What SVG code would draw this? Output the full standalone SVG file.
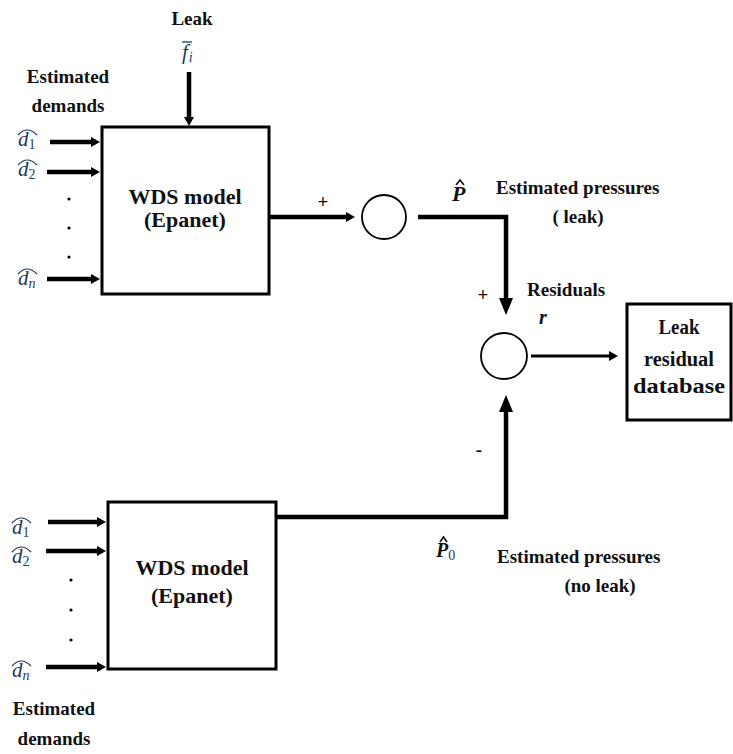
<svg xmlns="http://www.w3.org/2000/svg" width="733" height="754" viewBox="0 0 733 754">
<style>
.box{fill:#fff;stroke:#000;stroke-width:3}
.sum{fill:#fff;stroke:#000;stroke-width:1.8}
.lbl{font-family:"Liberation Serif",serif;font-weight:bold;font-size:19px;fill:#111}
.big{font-family:"Liberation Serif",serif;font-weight:bold;font-size:22px;fill:#111}
.math{font-family:"Liberation Serif",serif;font-style:italic;font-size:21px;fill:#1f3864}
.sub{font-family:"Liberation Serif",serif;font-size:14px;fill:#1f3864}
.num{font-style:normal}
.bm{font-family:"Liberation Serif",serif;font-style:italic;font-weight:bold;font-size:22px;fill:#111}
.hat{fill:none;stroke:#1f3864;stroke-width:1.2}
.bhat{fill:none;stroke:#111;stroke-width:1.6}
.wire{fill:none;stroke:#000;stroke-width:4.5}
.dot{fill:#000}
</style>
<defs>
<marker id="ah" markerUnits="userSpaceOnUse" markerWidth="9" markerHeight="10" refX="0" refY="5" orient="auto"><path d="M0,0 L9,5 L0,10 z" fill="#000"/></marker>
<marker id="ahL" markerUnits="userSpaceOnUse" markerWidth="17" markerHeight="14" refX="0" refY="7" orient="auto"><path d="M0,0 L17,7 L0,14 z" fill="#000"/></marker>
</defs>

<g id="connectors">
<line class="wire" x1="189" y1="72" x2="189" y2="117" marker-end="url(#ah)"/>
<line class="wire" x1="50" y1="142" x2="91" y2="142" marker-end="url(#ah)"/>
<line class="wire" x1="47" y1="172" x2="91" y2="172" marker-end="url(#ah)"/>
<line class="wire" x1="47" y1="279" x2="91" y2="279" marker-end="url(#ah)"/>
<line class="wire" x1="269" y1="217" x2="346" y2="217" marker-end="url(#ah)"/>
<polyline class="wire" points="418,217 506,217 506,298" marker-end="url(#ahL)"/>
<polyline class="wire" points="276,517 506,517 506,412" marker-end="url(#ahL)"/>
<line class="wire" style="stroke-width:3.2" x1="531" y1="356" x2="609" y2="356" marker-end="url(#ah)"/>
<line class="wire" x1="48" y1="522" x2="97" y2="522" marker-end="url(#ah)"/>
<line class="wire" x1="46" y1="551" x2="97" y2="551" marker-end="url(#ah)"/>
<line class="wire" x1="46" y1="667" x2="97" y2="667" marker-end="url(#ah)"/>
</g>

<g id="leak-input">
<text class="lbl" x="192" y="25" text-anchor="middle">Leak</text>
<text class="math" x="182" y="59">f<tspan class="sub" style="font-style:italic" dy="3" dx="1">i</tspan></text>
<line x1="182" y1="42" x2="192" y2="42" stroke="#1f3864" stroke-width="1.3"/>
</g>

<g id="demands-top">
<text class="lbl" x="68" y="83" text-anchor="middle">Estimated</text>
<text class="lbl" x="68" y="112" text-anchor="middle">demands</text>
<text class="math" x="18" y="146">d<tspan class="sub num" dy="3">1</tspan></text>
<path class="hat" d="M18,135 Q27,125 37,135"/>
<text class="math" x="18" y="176">d<tspan class="sub num" dy="3">2</tspan></text>
<path class="hat" d="M18,165 Q27,155 37,165"/>
<text class="math" x="18" y="285">d<tspan class="sub" style="font-style:italic" dy="3">n</tspan></text>
<path class="hat" d="M18,274 Q27,264 37,274"/>
<circle class="dot" cx="69" cy="199" r="1.6"/>
<circle class="dot" cx="69" cy="228" r="1.6"/>
<circle class="dot" cx="69" cy="257" r="1.6"/>
</g>

<g id="wds-model-leak">
<rect class="box" x="102" y="127" width="167" height="167"/>
<text class="big" x="185" y="204" text-anchor="middle">WDS model</text>
<text class="big" x="185" y="227" text-anchor="middle">(Epanet)</text>
</g>

<g id="sum-1">
<circle class="sum" cx="384" cy="217" r="22"/>
<text class="lbl" x="323" y="208" text-anchor="middle">+</text>
</g>

<g id="pressures-leak">
<text class="bm" x="452" y="201">P</text>
<path class="bhat" d="M456,185 L460,180 L464,185"/>
<text class="lbl" x="496" y="194">Estimated pressures</text>
<text class="lbl" x="578" y="223" text-anchor="middle">( leak)</text>
</g>

<g id="sum-2">
<circle class="sum" cx="504" cy="356" r="23"/>
<text class="lbl" x="483" y="301" text-anchor="middle">+</text>
<text class="lbl" x="479" y="456" text-anchor="middle">-</text>
<text class="lbl" x="527" y="296">Residuals</text>
<text class="bm" style="font-size:20px" x="539" y="324">r</text>
</g>

<g id="leak-residual-database">
<rect class="box" x="627" y="304" width="104" height="116"/>
<text class="lbl" style="font-size:20px" x="679" y="334" text-anchor="middle" textLength="41" lengthAdjust="spacingAndGlyphs">Leak</text>
<text class="lbl" style="font-size:20px" x="679" y="366" text-anchor="middle" textLength="70" lengthAdjust="spacingAndGlyphs">residual</text>
<text class="lbl" style="font-size:20px" x="679" y="393" text-anchor="middle" textLength="92" lengthAdjust="spacingAndGlyphs">database</text>
</g>

<g id="wds-model-noleak">
<rect class="box" x="108" y="502" width="168" height="167"/>
<text class="big" x="192" y="575" text-anchor="middle">WDS model</text>
<text class="big" x="192" y="603" text-anchor="middle">(Epanet)</text>
</g>

<g id="demands-bottom">
<text class="math" x="12" y="534">d<tspan class="sub num" dy="3">1</tspan></text>
<path class="hat" d="M12,523 Q21,513 31,523"/>
<text class="math" x="12" y="563">d<tspan class="sub num" dy="3">2</tspan></text>
<path class="hat" d="M12,552 Q21,542 31,552"/>
<text class="math" x="12" y="677">d<tspan class="sub" style="font-style:italic" dy="3">n</tspan></text>
<path class="hat" d="M12,666 Q21,656 31,666"/>
<circle class="dot" cx="71" cy="580" r="1.6"/>
<circle class="dot" cx="71" cy="610" r="1.6"/>
<circle class="dot" cx="71" cy="640" r="1.6"/>
<text class="lbl" x="54" y="715" text-anchor="middle">Estimated</text>
<text class="lbl" x="54" y="745" text-anchor="middle">demands</text>
</g>

<g id="pressures-noleak">
<text class="bm" style="font-size:20px" x="436" y="557">P<tspan class="sub" style="font-style:normal;font-weight:normal" dy="3">0</tspan></text>
<path class="bhat" d="M440,542 L443.5,537 L447,542"/>
<text class="lbl" x="497" y="563">Estimated pressures</text>
<text class="lbl" x="600" y="592" text-anchor="middle">(no leak)</text>
</g>
</svg>
